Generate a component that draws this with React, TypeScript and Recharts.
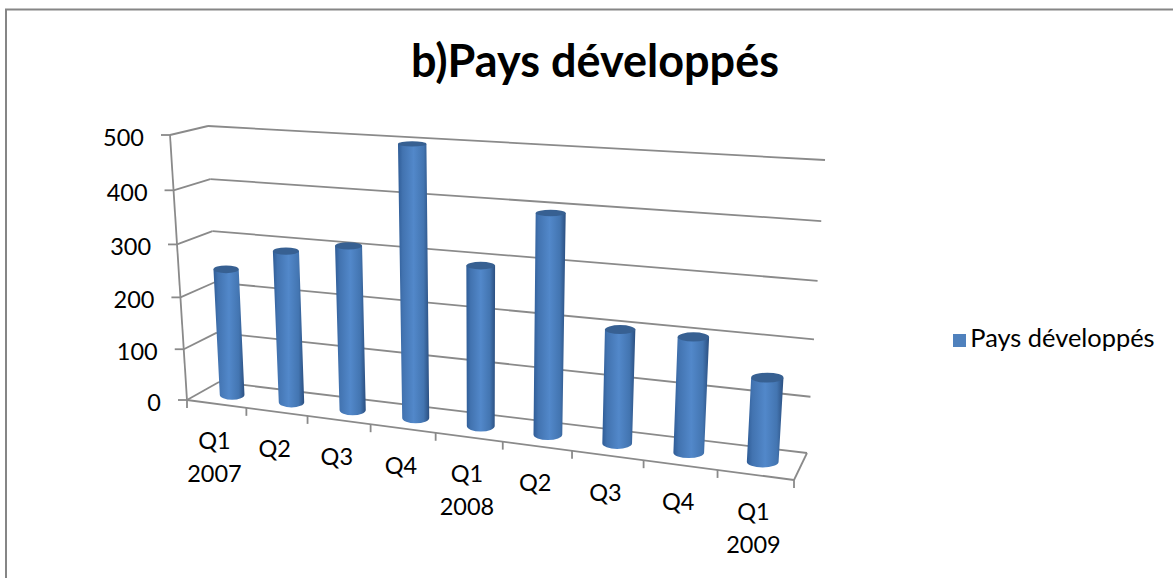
import { Bar, BarChart, CartesianGrid, Legend, XAxis, YAxis } from 'recharts';

const categories = ['Q1 2007', 'Q2', 'Q3', 'Q4', 'Q1 2008', 'Q2', 'Q3', 'Q4', 'Q1 2009'];
const values = [245, 290, 310, 500, 295, 397, 205, 205, 148];
const valueTicks = [0, 100, 200, 300, 400, 500];
const seriesName = 'Pays développés';

const data = categories.map((name, i) => ({ name, value: values[i] }));

const FONT = 'Lato, sans-serif';
const GREY = '#8a8a8a';

// flat plot box that recharts lays out; everything is then projected into the 3D box
const MARGIN = { top: 100, right: 200, bottom: 70, left: 80 };
const PLOT = { left: 120, right: 973, top: 100, bottom: 478 };
const toU = (x: number) => (x - PLOT.left) / (PLOT.right - PLOT.left);
const toV = (y: number) => (PLOT.bottom - y) / (PLOT.bottom - PLOT.top);

type Pt = [number, number];

// unit square -> quad (bottom-left, bottom-right, top-right, top-left)
const homography = ([p0, p1, p2, p3]: Pt[]) => {
    const dx1 = p1[0] - p2[0];
    const dx2 = p3[0] - p2[0];
    const sx = p0[0] - p1[0] + p2[0] - p3[0];
    const dy1 = p1[1] - p2[1];
    const dy2 = p3[1] - p2[1];
    const sy = p0[1] - p1[1] + p2[1] - p3[1];
    const den = dx1 * dy2 - dx2 * dy1;
    const g = (sx * dy2 - dx2 * sy) / den;
    const h = (dx1 * sy - sx * dy1) / den;
    const a = p1[0] - p0[0] + g * p1[0];
    const b = p3[0] - p0[0] + h * p3[0];
    const d = p1[1] - p0[1] + g * p1[1];
    const e = p3[1] - p0[1] + h * p3[1];
    return (u: number, v: number): Pt => {
        const w = g * u + h * v + 1;
        return [(a * u + b * v + p0[0]) / w, (d * u + e * v + p0[1]) / w];
    };
};

const frontWall = homography([[187, 400], [794, 480], [813, 177], [170, 135]]);
const backWall = homography([[219, 382], [807, 453], [825, 160], [208, 126]]);
const barPlane = homography([[203, 391], [800.5, 466.5], [819, 168.5], [189, 130.5]]);

const seg = (a: Pt, b: Pt, key: string) => (
    <line key={key} x1={a[0]} y1={a[1]} x2={b[0]} y2={b[1]} stroke={GREY} strokeWidth={1.8} />
);

const GridLine = (props: any) => {
    const v = toV(props.y1);
    const front = frontWall(0, v);
    return (
        <g key={props.key}>
            {seg(front, backWall(0, v), 'side')}
            {seg(backWall(0, v), backWall(1, v), 'back')}
            {v > 0.999 && seg(frontWall(0, 0), frontWall(0, 1), 'axis')}
            {v < 0.001 && seg(frontWall(0, 0), frontWall(1, 0), 'front')}
            {v < 0.001 && seg(frontWall(1, 0), backWall(1, 0), 'right')}
        </g>
    );
};

const ValueTick = ({ y, payload }: any) => {
    const [px, py] = frontWall(0, toV(y));
    return (
        <g>
            {seg([px - 9, py], [px, py], 'tick')}
            <text x={px - 26} y={py + 2.5} dy="0.35em" textAnchor="end" fontFamily={FONT} fontSize={23.5} fill="#000">
                {payload.value}
            </text>
        </g>
    );
};

const CategoryTick = ({ x, payload, index }: any) => {
    const u = toU(x);
    const half = 0.5 / categories.length;
    const [px, py] = frontWall(u, 0);
    const [tx, ty] = frontWall(u + half, 0);
    const [lx, ly] = frontWall(u - half, 0);
    const [line1, line2] = String(payload.value).split(' ');
    return (
        <g>
            {seg([tx, ty], [tx, ty + 8], 'tick')}
            {index === 0 && seg([lx, ly], [lx, ly + 8], 'tick0')}
            <text x={px - 2} y={py + 37} dy="0.35em" textAnchor="middle" fontFamily={FONT} fontSize={23.5} fill="#000">
                {line1}
            </text>
            {line2 && (
                <text x={px - 2} y={py + 70} dy="0.35em" textAnchor="middle" fontFamily={FONT} fontSize={23.5} fill="#000">
                    {line2}
                </text>
            )}
        </g>
    );
};

const Cylinder = ({ x, y, width, height }: any) => {
    const uL = toU(x);
    const uR = toU(x + width);
    const vTop = toV(y);
    const vBottom = toV(y + height);
    const tl = barPlane(uL, vTop);
    const tr = barPlane(uR, vTop);
    const bl = barPlane(uL, vBottom);
    const br = barPlane(uR, vBottom);
    const rx = (br[0] - bl[0]) / 2;
    const ryAt = (py: number) => 2.6 + (py - 140) * 0.01;
    const topCx = (tl[0] + tr[0]) / 2;
    const topCy = (tl[1] + tr[1]) / 2;
    const bottomCy = (bl[1] + br[1]) / 2;
    const body = `M${tl[0]},${topCy} L${bl[0]},${bottomCy} A${rx},${ryAt(bottomCy)} 0 0 0 ${br[0]},${bottomCy} L${tr[0]},${topCy} Z`;
    return (
        <g>
            <path d={body} fill="url(#cylinderFill)" />
            <ellipse cx={topCx} cy={topCy} rx={(tr[0] - tl[0]) / 2} ry={ryAt(topCy)} fill="#376092" />
        </g>
    );
};

const App = () => (
    <div style={{ position: 'absolute', left: 0, top: 0, background: '#fff' }}>
        <BarChart width={1173} height={578} data={data} margin={MARGIN} barCategoryGap="29%">
            <defs>
                <linearGradient id="cylinderFill" x1="0" y1="0" x2="1" y2="0">
                    <stop offset="0%" stopColor="#2f5c96" />
                    <stop offset="15%" stopColor="#4273b0" />
                    <stop offset="50%" stopColor="#5288ca" />
                    <stop offset="82%" stopColor="#4375b1" />
                    <stop offset="100%" stopColor="#2b4f80" />
                </linearGradient>
            </defs>
            <path d="M6,578 L6,9.5 L1173,9.5" fill="none" stroke="#868686" strokeWidth={2} />
            <text x={595} y={77} textAnchor="middle" fontFamily={FONT} fontWeight={700} fontSize={45} fill="#000">
                b)Pays développés
            </text>
            <CartesianGrid vertical={false} horizontal={GridLine} />
            <XAxis
                dataKey="name"
                height={30}
                interval={0}
                axisLine={false}
                tickLine={false}
                tick={CategoryTick}
            />
            <YAxis
                width={40}
                domain={[0, 500]}
                ticks={valueTicks}
                axisLine={false}
                tickLine={false}
                tick={ValueTick}
            />
            <Legend
                layout="horizontal"
                align="center"
                verticalAlign="middle"
                iconType="square"
                iconSize={13}
                wrapperStyle={{ left: 939, top: 322, width: 240, fontFamily: FONT, fontSize: 25.4 }}
                formatter={(v: string) => <span style={{ color: '#000' }}>{v}</span>}
            />
            <Bar dataKey="value" name={seriesName} fill="#4f81bd" shape={Cylinder} isAnimationActive={false} />
        </BarChart>
    </div>
);

export default App;
